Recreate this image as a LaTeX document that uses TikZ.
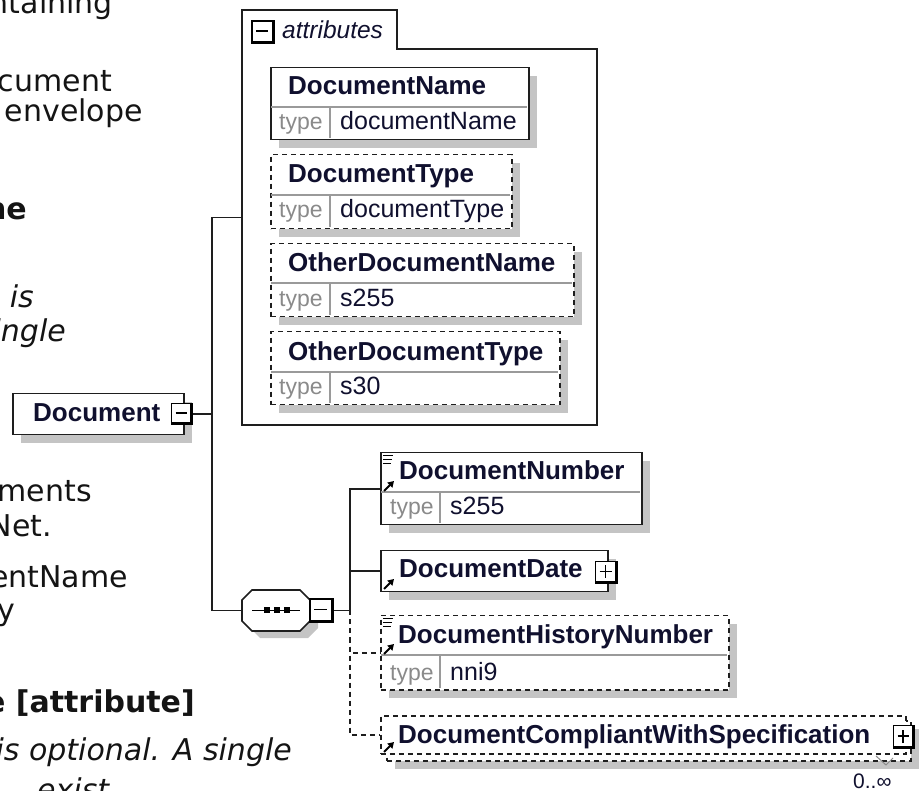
\documentclass[tikz,border=0pt]{standalone}
\usepackage{fontspec}
\setmainfont{DejaVu Sans}
\newfontfamily\arialf{Liberation Sans}
\usetikzlibrary{arrows.meta,shadows}
\definecolor{linec}{HTML}{1E1E1E}
\definecolor{namec}{HTML}{10102E}
\definecolor{typec}{HTML}{8A8A8A}
\definecolor{divc}{HTML}{9A9A9A}
\definecolor{shadowc}{HTML}{C4C4C4}
\definecolor{bodyc}{HTML}{141414}
\begin{document}
\begin{tikzpicture}[x=1pt,y=-1pt,
  elem/.style={draw=linec, line width=1.5pt, fill=white, inner sep=0pt, anchor=north west},
  dashbox/.style={elem, dash pattern=on 5pt off 4pt},
  sh/.style={general shadow={fill=shadowc, shadow xshift=8pt, shadow yshift=-8pt}},
  holder/.style={draw=none, inner sep=0pt, anchor=north west},
  togglebox/.style={draw=black, line width=1.4pt, fill=white, inner sep=0pt, anchor=center},
  minusbox/.style={togglebox, path picture={
      \draw[line width=3.4pt] ([yshift=0.6pt]path picture bounding box.south west) -- ([xshift=-0.6pt,yshift=0.6pt]path picture bounding box.south east) -- ([xshift=-0.6pt]path picture bounding box.north east);
      \draw[line width=1.5pt] ([xshift=4pt,yshift=0.8pt]path picture bounding box.west) -- ([xshift=-6pt,yshift=0.8pt]path picture bounding box.east);}},
  plusbox/.style={togglebox, path picture={
      \draw[line width=3.4pt] ([yshift=0.6pt]path picture bounding box.south west) -- ([xshift=-0.6pt,yshift=0.6pt]path picture bounding box.south east) -- ([xshift=-0.6pt]path picture bounding box.north east);
      \draw[line width=1.5pt] ([xshift=4pt,yshift=0.8pt]path picture bounding box.west) -- ([xshift=-6pt,yshift=0.8pt]path picture bounding box.east);
      \draw[line width=1.5pt] ([xshift=-0.8pt,yshift=5.5pt]path picture bounding box.south) -- ([xshift=-0.8pt,yshift=-4pt]path picture bounding box.north);}},
  nm/.style={font=\arialf\bfseries\fontsize{26}{31}\selectfont, text=namec, inner sep=0pt, anchor=base west},
  tp/.style={font=\arialf\fontsize{23}{27}\selectfont, text=typec, inner sep=0pt, anchor=base west},
  tv/.style={font=\arialf\fontsize{25}{29}\selectfont, text=namec, inner sep=0pt, anchor=base west},
  attrlabel/.style={font=\arialf\itshape\fontsize{24.5}{29}\selectfont, text=namec, inner sep=0pt, anchor=base west},
  card/.style={font=\arialf\fontsize{21}{25}\selectfont, text=namec, inner sep=0pt, anchor=base west},
  body/.style={font=\fontsize{30}{36}\selectfont, text=bodyc, inner sep=0pt, anchor=base east},
  bodyb/.style={body, font=\bfseries\fontsize{30}{36}\selectfont},
  bodyi/.style={body, font=\itshape\fontsize{30}{36}\selectfont},
  divider/.style={draw=divc, line width=1.3pt},
  conn/.style={draw=linec, line width=1.6pt},
  dconn/.style={conn, dash pattern=on 5pt off 4pt},
  cont/.style={draw=linec, line width=1.6pt},
  refarrow/.style={draw=black, line width=2pt, -{Triangle[length=6pt,width=7pt]}},
  fragicon/.style={draw=black, line width=1.1pt},
  leader/.style={draw=typec, line width=1pt}
]
\useasboundingbox (0,0) rectangle (922,791);

% ---- left text fragments (cut by the page edge, as in the reference) ----
\begin{scope}
\clip (0,0) rectangle (922,791);
\node[body]  (t1)  at (113,14)  {ntaining};
\node[body]  (t2)  at (112,92)  {cument};
\node[body]  (t3)  at (143,122) {envelope};
\node[bodyb] (t4)  at (27,220)  {ne};
\node[bodyi] (t5)  at (34,308)  {e is};
\node[bodyi] (t6)  at (66,342)  {single};
\node[body]  (t7)  at (92,502)  {ments};
\node[body]  (t8)  at (52,537)  {Net.};
\node[body]  (t9)  at (128,588) {entName};
\node[body]  (t10) at (15,620)  {y};
\node[bodyb] (t11) at (195,712) {e [attribute]};
\node[bodyi] (t12) at (292,760) {is optional. A single};
\node[bodyi, anchor=base west] (t13) at (37,800) {exist};
\end{scope}

% ---- attributes container ----
\draw[cont] (242,10) -- (397,10) -- (397,49) -- (597,49) -- (597,425) -- (242,425) -- cycle;
\node[holder, minimum width=355pt, minimum height=415pt] (attrs) at (242,10) {};
\node[minusbox, minimum width=22pt, minimum height=22pt] (attrx) at (263,32) {};
\node[attrlabel] (attrt) at (282,39) {attributes};

% DocumentName
\node[elem, sh, minimum width=258pt, minimum height=72pt] (dname) at (270,67) {};
\draw[divider] (271,107) -- (527,107);
\draw[divider] (330,107) -- (330,138);
\node[nm] (dnamet) at (288,95) {DocumentName};
\node[tp] (dnamek) at (279,130) {type};
\node[tv] (dnamev) at (340,130) {documentName};

% DocumentType
\node[dashbox, sh, minimum width=241pt, minimum height=74pt] (dtype) at (270,154) {};
\draw[divider] (271,195) -- (510,195);
\draw[divider] (330,195) -- (330,227);
\node[nm] (dtypet) at (288,183) {DocumentType};
\node[tp] (dtypek) at (279,218) {type};
\node[tv] (dtypev) at (340,218) {documentType};

% OtherDocumentName
\node[dashbox, sh, minimum width=303pt, minimum height=73pt] (odn) at (270,243) {};
\draw[divider] (271,283) -- (572,283);
\draw[divider] (330,283) -- (330,315);
\node[nm] (odnt) at (288,272) {OtherDocumentName};
\node[tp] (odnk) at (279,307) {type};
\node[tv] (odnv) at (340,307) {s255};

% OtherDocumentType
\node[dashbox, sh, minimum width=289pt, minimum height=73pt] (odt) at (270,331) {};
\draw[divider] (271,372) -- (558,372);
\draw[divider] (330,372) -- (330,403);
\node[nm] (odtt) at (288,361) {OtherDocumentType};
\node[tp] (odtk) at (279,395) {type};
\node[tv] (odtv) at (340,395) {s30};

% ---- Document ----
\node[elem, sh, minimum width=171pt, minimum height=41pt] (doc) at (12,393) {};
\node[nm] (doct) at (33,422) {Document};
\node[minusbox, minimum width=21pt, minimum height=21pt] (docx) at (182,414) {};
\coordinate (br1) at (212,414);

% ---- sequence compositor ----
\fill[shadowc, shift={(8,7)}] (252,590) -- (300,590) -- (310,600) -- (310,621) -- (300,631) -- (252,631) -- (242,621) -- (242,600) -- cycle;
\draw[cont, fill=white] (252,590) -- (300,590) -- (310,600) -- (310,621) -- (300,631) -- (252,631) -- (242,621) -- (242,600) -- cycle;
\node[holder, minimum width=68pt, minimum height=41pt] (seq) at (242,590) {};
\draw[line width=1.5pt, draw=black] (252,610.5) -- (300,610.5);
\fill[black] (263.5,607.5) rectangle (269.5,613.5);
\fill[black] (273.5,607.5) rectangle (279.5,613.5);
\fill[black] (283.5,607.5) rectangle (289.5,613.5);
\node[minusbox, minimum width=23pt, minimum height=23pt] (seqx) at (321.5,610.5) {};
\coordinate (br2) at (350,610.5);

% ---- connectors ----
\draw[conn] (docx.east) -- (br1);
\draw[conn] (br1) |- (attrs.west);
\draw[conn] (br1) |- (seq.west);
\draw[conn] (seqx.east) -- (br2);

% ---- DocumentNumber ----
\node[elem, sh, minimum width=261pt, minimum height=72pt] (dnum) at (380,452) {};
\draw[divider] (381,492) -- (640,492);
\draw[divider] (440,492) -- (440,523);
\node[nm] (dnumt) at (399,480) {DocumentNumber};
\node[tp] (dnumk) at (390,515) {type};
\node[tv] (dnumv) at (450,515) {s255};
\draw[fragicon] (383,455.5) -- (393,455.5) (383,459.5) -- (392,459.5) (383,463.5) -- (391,463.5);
\draw[refarrow] (384,491) -- (394,481);

% ---- DocumentDate ----
\node[elem, sh, minimum width=227pt, minimum height=41pt] (ddate) at (380,550) {};
\node[nm] (ddatet) at (399,578) {DocumentDate};
\node[plusbox, minimum width=22pt, minimum height=22pt] (ddatex) at (606.5,572.5) {};
\draw[refarrow] (384,589) -- (394,579);

% ---- DocumentHistoryNumber ----
\node[dashbox, sh, minimum width=348pt, minimum height=74pt] (dhn) at (380,615) {};
\draw[divider] (381,655) -- (727,655);
\draw[divider] (440,655) -- (440,688);
\node[nm] (dhnt) at (398,643) {DocumentHistoryNumber};
\node[tp] (dhnk) at (390,680) {type};
\node[tv] (dhnv) at (450,680) {nni9};
\draw[fragicon] (383,618.5) -- (393,618.5) (383,622.5) -- (392,622.5) (383,626.5) -- (391,626.5);
\draw[refarrow] (384,654) -- (394,644);

% ---- DocumentCompliantWithSpecification ----
\node[dashbox, sh, minimum width=524pt, minimum height=40pt] (dcwsb) at (386,720) {};
\node[dashbox, minimum width=525pt, minimum height=38pt] (dcws) at (380,715) {};
\node[nm] (dcwst) at (398,743) {DocumentCompliantWithSpecification};
\node[plusbox, minimum width=21pt, minimum height=23pt] (dcwsx) at (904,737) {};
\draw[refarrow] (384,752) -- (394,742);
\draw[leader] (876,756) -- (886,765) -- (893,758);
\node[card] (dcwsc) at (853,788) {0..∞};

% ---- child connectors ----
\draw[conn] (br2) |- (dnum.west);
\draw[conn] (br2) |- (ddate.west);
\draw[dconn] (br2) |- (dhn.west);
\draw[dconn] (br2) |- (dcws.west);
\end{tikzpicture}
\end{document}
